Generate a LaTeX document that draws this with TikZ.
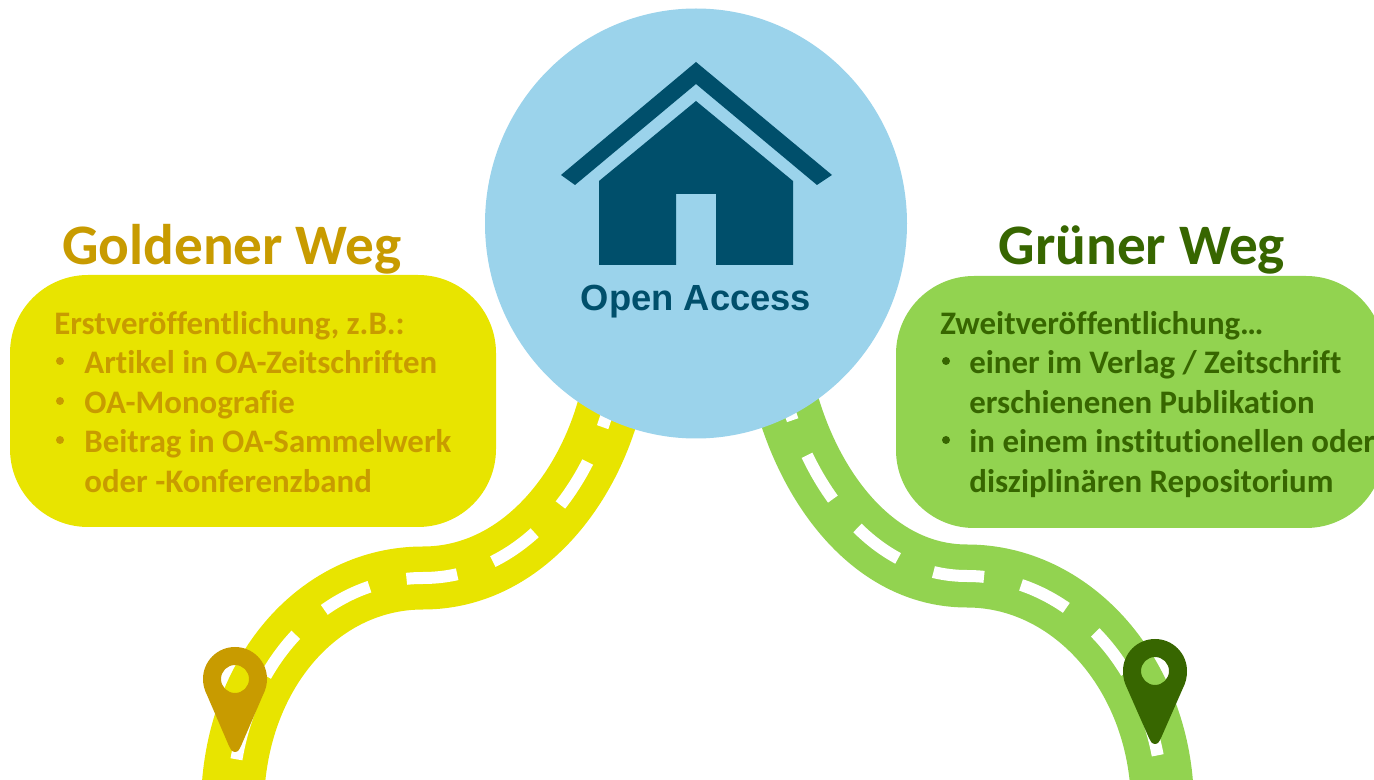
\documentclass[tikz,border=0pt]{standalone}
\usepackage{fontspec}
\setmainfont[Ligatures=NoCommon]{Carlito}
\newfontfamily\arialfont{Liberation Sans}
\usetikzlibrary{shapes.geometric}
\definecolor{yel}{HTML}{E8E400}
\definecolor{gold}{HTML}{C89B00}
\definecolor{grn}{HTML}{92D350}
\definecolor{dgrn}{HTML}{376600}
\definecolor{lblue}{HTML}{9BD3EB}
\definecolor{dblue}{HTML}{004F6B}
\tikzset{
 x=0.02cm,y=-0.02cm,
 road/.style={line width=63*0.02cm},
 lane/.style={white,line width=12*0.02cm,dash pattern=on 29pt off 21.6pt},
 panel/.style={rounded corners=78*0.02cm},
 headline/.style={font=\fontsize{32.6pt}{34pt}\selectfont\bfseries,anchor=base},
 bodytext/.style={font=\fontsize{18.7pt}{22.5pt}\selectfont\bfseries,anchor=base west,inner sep=0pt},
}
\begin{document}
\begin{tikzpicture}
\useasboundingbox (0,0) rectangle (1374,780);
\clip (0,0) rectangle (1374,780);
% roads
\coordinate (ya) at (233,790);
\coordinate (ym) at (423,578);
\coordinate (yb) at (612,395);
\coordinate (ga) at (1162,790);
\coordinate (gm) at (967,576);
\coordinate (gb) at (785,395);
\draw[road,yel] (ya) .. controls (240,670) and (320,578) .. (ym) .. controls (520,578) and (590,490) .. (yb);
\draw[lane,dash phase=33pt] (ya) .. controls (240,670) and (320,578) .. (ym) .. controls (520,578) and (590,490) .. (yb);
\draw[road,grn] (ga) .. controls (1155,670) and (1070,576) .. (gm) .. controls (875,576) and (810,490) .. (gb);
\draw[lane,dash phase=30.7pt] (ga) .. controls (1155,670) and (1070,576) .. (gm) .. controls (875,576) and (810,490) .. (gb);
% panels
\path[panel,fill=yel] (10,275) rectangle (496,527);
\path[panel,fill=grn] (896,276) rectangle (1384,528);
% circle
\node[ellipse,fill=lblue,minimum width=422*0.02cm,minimum height=430*0.02cm,inner sep=0pt] (hub) at (696,223.5) {};
% house
\fill[dblue] (696,62) -- (832,175) -- (817,185) -- (696,84) -- (575,185) -- (561,175) -- cycle;
\fill[dblue] (696,101) -- (793,181) -- (793,265) -- (716,265) -- (716,194) -- (676,194) -- (676,265) -- (599,265) -- (599,181) -- cycle;
\node[font=\arialfont\fontsize{20.7pt}{22pt}\selectfont\bfseries,text=dblue,anchor=base] (oa) at (696,311) {Open Access};
% headings
\node[headline,text=gold] (gt) at (232,264.5) {Goldener Weg};
\node[headline,text=dgrn] (gr) at (1142,264.5) {Grüner Weg};
% body left
\node[bodytext,text=gold] (l1) at (54,334.5) {Erstveröffentlichung, z.B.:};
\node[bodytext,text=gold] (l2) at (84,373.5) {Artikel in OA-Zeitschriften};
\node[bodytext,text=gold] (l3) at (84,413.5) {OA-Monografie};
\node[bodytext,text=gold] (l4) at (84,452.5) {Beitrag in OA-Sammelwerk};
\node[bodytext,text=gold] (l5) at (84,492.5) {oder -Konferenzband};
\foreach \yy in {361,401,440} \fill[gold] (60,\yy) circle (4);
% body right
\node[bodytext,text=dgrn] (r1) at (940,334.5) {Zweitveröffentlichung…};
\node[bodytext,text=dgrn] (r2) at (969,373.5) {einer im Verlag / Zeitschrift};
\node[bodytext,text=dgrn] (r3) at (969,413.5) {erschienenen Publikation};
\node[bodytext,text=dgrn] (r4) at (969,452.5) {in einem institutionellen oder};
\node[bodytext,text=dgrn] (r5) at (969,492.5) {disziplinären Repositorium};
\foreach \yy in {361,440} \fill[dgrn] (946,\yy) circle (4);
% pins
\fill[gold,even odd rule] (235,752) .. controls (232,752) and (230,749) .. (229,746) -- (207,695) .. controls (204.5,690) and (203,685) .. (203,679) .. controls (203,661.3) and (217.3,647) .. (235,647) .. controls (252.7,647) and (267,661.3) .. (267,679) .. controls (267,685) and (265.5,690) .. (263,695) -- (241,746) .. controls (240,749) and (238,752) .. (235,752) -- cycle (235,679) circle (14);
\fill[dgrn,even odd rule] (1155,744) .. controls (1152,744) and (1150,741) .. (1149,738) -- (1127,688) .. controls (1124.5,683) and (1123,678) .. (1123,671) .. controls (1123,653.3) and (1137.3,639) .. (1155,639) .. controls (1172.7,639) and (1187,653.3) .. (1187,671) .. controls (1187,678) and (1185.5,683) .. (1183,688) -- (1161,738) .. controls (1160,741) and (1158,744) .. (1155,744) -- cycle (1155,671) circle (14);
\end{tikzpicture}
\end{document}
